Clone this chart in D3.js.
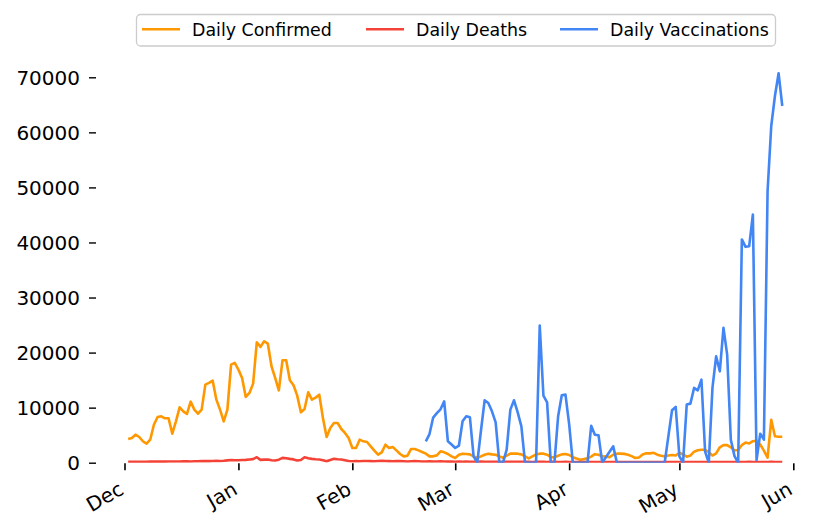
<!DOCTYPE html>
<html>
<head>
<meta charset="utf-8">
<script src="https://cdn.jsdelivr.net/npm/d3@7/dist/d3.min.js"></script>
<style>
  html, body { margin: 0; padding: 0; background: #ffffff; }
  svg { display: block; }
  svg text { font-family: "DejaVu Sans", sans-serif; }
</style>
</head>
<body>
<svg id="chart" width="830" height="531"></svg>
<script>
// ---- data ----
const startDate = "2020-12-02";
const seriesNames = ["Daily Confirmed", "Daily Deaths", "Daily Vaccinations"];
const seriesColors = ["#FF9800", "#F44336", "#4285F4"];
const monthTicks = ["2020-12-01", "2021-01-01", "2021-02-01", "2021-03-01", "2021-04-01", "2021-05-01", "2021-06-01"];
const yTicks = [0, 10000, 20000, 30000, 40000, 50000, 60000, 70000];

const dailyConfirmed = [
  4300, 4490, 5090, 4670, 3900, 3450, 4180, 6900, 8300, 8420,
  8060, 8060, 5270, 7520, 10060, 9330, 8850, 11090, 9640, 8900,
  9640, 14180, 14490, 14900, 11450, 9640, 7520, 9640, 17820, 18120,
  16900, 15400, 11940, 12670, 14360, 21870, 21030, 22060, 21640, 17520,
  15400, 13150, 18600, 18600, 14970, 14060, 12180, 9150, 9760, 12790,
  11450, 11820, 12360, 8120, 4670, 6300, 7210, 7210, 6120, 5400,
  4490, 2670, 2670, 4180, 3880, 3760, 2970, 2180, 1450, 1880,
  3270, 2670, 2850, 2240, 1580, 1150, 1270, 2490, 2490, 2240,
  1940, 1640, 1150, 1150, 1330, 2060, 1880, 1580, 1150, 850,
  1450, 1640, 1580, 1510, 1150, 850, 1150, 1450, 1640, 1510,
  1450, 1150, 910, 1270, 1640, 1640, 1640, 1510, 1150, 790,
  1150, 1510, 1640, 1640, 1450, 1030, 970, 1270, 1510,
  1580, 1400, 1000, 750, 550, 650, 800, 1100, 1550, 1450, 1150,
  1100, 1000, 1450, 1640, 1640, 1600, 1450, 1200, 850, 950,
  1500, 1700, 1700, 1800, 1450, 1250, 1150, 1300, 1400, 1300,
  1800, 1500, 1100, 1300, 2000, 2250, 2360, 2360, 1900, 1300,
  1700, 2800, 3200, 3200, 2800, 2200, 2300, 3200, 3650, 3500,
  3900, 4000, 3300, 2200, 900, 7800, 4800, 4700, 4700
];

const dailyDeaths = [
  150, 160, 170, 160, 180, 170, 190, 200, 190, 210,
  200, 220, 210, 230, 220, 240, 250, 230, 260, 270,
  280, 300, 290, 310, 330, 320, 350, 420, 500, 450,
  450, 480, 520, 580, 650, 1000, 520, 560, 580, 450,
  400, 550, 880, 820, 700, 600, 400, 500, 1000, 800,
  700, 620, 580, 450, 270, 500, 700, 620, 580, 450,
  300, 270, 300, 270, 300, 320, 280, 250, 300, 350,
  300, 280, 260, 300, 280, 250, 230, 260, 280, 250,
  230, 220, 240, 230, 220, 250, 230, 200, 210, 180,
  190, 180, 200, 170, 160, 180, 190, 170, 160, 180,
  170, 150, 160, 180, 170, 160, 150, 170, 160, 150,
  140, 160, 170, 150, 140, 150, 160, 140, 130, 150,
  140, 130, 120, 130, 140, 150, 140, 130, 120, 130,
  120, 130, 140, 130, 120, 110, 120, 130, 120, 110,
  120, 130, 120, 110, 100, 110, 120, 110, 100, 110,
  120, 110, 100, 110, 120, 130, 120, 110, 100, 110,
  120, 130, 140, 130, 120, 110, 120, 130, 140, 150,
  140, 130, 120, 130, 140, 150, 140, 130, 120
];

const vaccinationsStartIndex = 81; // first reported vaccination value (2021-02-21)
const dailyVaccinationsReported = [
  3880, 5200, 8200, 9000, 9700, 11150, 3880, 3300, 2670,
  3090, 7520, 8420, 8240, 1150, 0, 5800, 11330, 10850, 9330,
  7330, 0, 0, 2360, 9640, 11330, 9150, 6600, 0, 0,
  0, 0, 24900, 12180, 10970, 0, 0, 8420, 12240, 12360,
  7000, 0, 0, 0, 0, 0, 6700, 5090, 4970, 0,
  1000, 2000, 2970, 0, 0, 0, 0, 0, 0, 0,
  0, 0, 0, 0, 0, 0, 0, 4790, 9520, 10120,
  1150, 0, 10550, 10730, 13580, 13150, 15090, 2000, 0, 13580,
  19330, 16600, 24490, 19640, 4180, 1200, 0, 40550, 39210, 39330,
  45090, 500, 5270, 4180, 49330, 61150, 66600, 70730, 64790
];

// ---- build table ----
const parse = d3.timeParse("%Y-%m-%d");
const d0 = parse(startDate);
const rows = dailyConfirmed.map((v, i) => ({
  date: d3.timeDay.offset(d0, i),
  confirmed: v,
  deaths: dailyDeaths[i],
  vacc: i >= vaccinationsStartIndex ? dailyVaccinationsReported[i - vaccinationsStartIndex] : null
}));

// ---- layout ----
const FONT = "'DejaVu Sans', sans-serif";
const svg = d3.select("#chart");
const xLeft = 124.5, xRight = 793.3;
const yBottom = 462.7, yTop = 77.3;
const x = d3.scaleTime().domain([parse(monthTicks[0]), parse(monthTicks[monthTicks.length - 1])]).range([xLeft, xRight]);
const y = d3.scaleLinear().domain([0, 70000]).range([yBottom, yTop]);

svg.append("defs").append("clipPath").attr("id", "plotclip")
  .append("rect").attr("x", 90).attr("y", 40).attr("width", 720).attr("height", yBottom - 40);

// ---- y axis ----
const yAxis = svg.append("g")
  .attr("transform", `translate(96,0)`)
  .call(d3.axisLeft(y).tickValues(yTicks).tickFormat(d3.format("d")).tickSize(7).tickPadding(9));
yAxis.select(".domain").remove();
yAxis.selectAll(".tick line").attr("stroke", "#000").attr("stroke-width", 1.4);
yAxis.selectAll(".tick text").attr("fill", "#000").attr("dy", "0.36em")
  .style("font-size", "20px").style("font-family", FONT);

// ---- x axis ----
const xAxis = svg.append("g")
  .attr("transform", `translate(0,${yBottom + 0.6})`)
  .call(d3.axisBottom(x).tickValues(monthTicks.map(parse)).tickFormat(d3.timeFormat("%b")).tickSize(7));
xAxis.select(".domain").remove();
xAxis.selectAll(".tick line").attr("stroke", "#000").attr("stroke-width", 1.6);
xAxis.selectAll(".tick text")
  .attr("fill", "#000")
  .style("font-size", "20px").style("font-family", FONT)
  .attr("text-anchor", "end")
  .attr("x", 0).attr("y", 18.6).attr("dy", null)
  .attr("transform", "translate(-9.4,13.8) rotate(-30)");

// ---- lines ----
const plot = svg.append("g").attr("clip-path", "url(#plotclip)");
const keys = ["confirmed", "deaths", "vacc"];
keys.forEach((k, i) => {
  const line = d3.line()
    .defined(d => d[k] !== null)
    .x(d => x(d.date))
    .y(d => y(d[k]));
  plot.append("path")
    .datum(rows)
    .attr("fill", "none")
    .attr("stroke", seriesColors[i])
    .attr("stroke-width", 2.6)
    .attr("stroke-linejoin", "round")
    .attr("d", line);
});

// ---- legend ----
const legend = svg.append("g");
legend.append("rect")
  .attr("x", 136.5).attr("y", 14.5).attr("width", 639).attr("height", 31.5)
  .attr("rx", 4).attr("ry", 4)
  .attr("fill", "#fff").attr("stroke", "#cccccc").attr("stroke-width", 1.3);
const handleX = [142, 366, 560];
seriesNames.forEach((name, i) => {
  legend.append("line")
    .attr("x1", handleX[i]).attr("x2", handleX[i] + 38)
    .attr("y1", 29.3).attr("y2", 29.3)
    .attr("stroke", seriesColors[i]).attr("stroke-width", 2.6);
  legend.append("text")
    .attr("x", handleX[i] + 50).attr("y", 36)
    .attr("fill", "#000")
    .style("font-size", "17.4px").style("font-family", FONT)
    .text(name);
});
</script>
</body>
</html>
